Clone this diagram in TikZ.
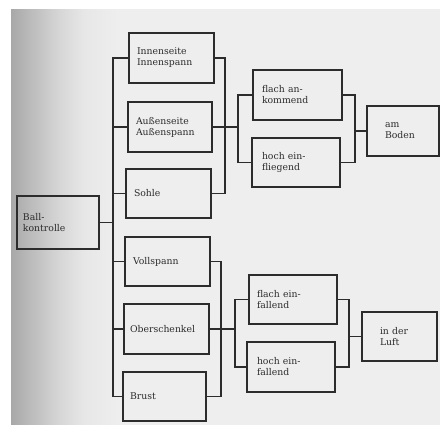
\documentclass[tikz,border=0pt]{standalone}
\usepackage{fontspec}
\setmainfont{DejaVu Serif}
\definecolor{ink}{HTML}{2C2C2C}
\definecolor{paper}{HTML}{EEEEEE}
\definecolor{shade}{HTML}{A8A8A8}
\pgfdeclarehorizontalshading{pageedge}{100bp}{
  color(0bp)=(shade); color(25bp)=(shade);
  color(27.5bp)=(shade!70!paper); color(30.5bp)=(shade!35!paper);
  color(33.5bp)=(shade!10!paper); color(37.5bp)=(paper); color(100bp)=(paper)}
\tikzset{
  box/.style={draw=ink, line width=1.2pt, inner ysep=0pt, align=left, text=ink,
    font=\fontsize{9.3pt}{11pt}\selectfont},
  wire/.style={draw=ink, line width=1.2pt}
}
\begin{document}
\begin{tikzpicture}[x=1pt,y=-1pt]
\useasboundingbox (0,0) rectangle (440,425);
\fill[white] (0,0) rectangle (440,425);
\shade[shading=pageedge] (11,10) rectangle (440,425);
% boxes
\node[box, inner xsep=6pt, text width=70pt, minimum height=53pt] (ball) at (58,222.5) {Ball-\\kontrolle};
\node[box, inner xsep=8pt, text width=69pt, minimum height=50pt] (inn) at (171.5,58) {Innenseite\\Innenspann};
\node[box, inner xsep=8pt, text width=68pt, minimum height=50pt] (aus) at (170,127) {Außenseite\\Außenspann};
\node[box, inner xsep=8pt, text width=69pt, minimum height=49pt] (sohle) at (168.5,193.5) {Sohle};
\node[box, inner xsep=8pt, text width=69pt, minimum height=49pt] (voll) at (167.5,261.5) {Vollspann};
\node[box, inner xsep=6pt, text width=73pt, minimum height=50pt] (ober) at (166.5,329) {Oberschenkel};
\node[box, inner xsep=7pt, text width=69pt, minimum height=49pt] (brust) at (164.5,396.5) {Brust};
\node[box, inner xsep=9pt, text width=71pt, minimum height=50pt] (flachan) at (297.5,95) {flach an-\\kommend};
\node[box, inner xsep=10pt, text width=68pt, minimum height=49pt] (hochein) at (296,162.5) {hoch ein-\\fliegend};
\node[box, inner xsep=18pt, text width=36pt, minimum height=50pt] (boden) at (403,131) {am\\Boden};
\node[box, inner xsep=8pt, text width=72pt, minimum height=49pt] (flachfall) at (293,299.5) {flach ein-\\fallend};
\node[box, inner xsep=10pt, text width=68pt, minimum height=50pt] (hochfall) at (291,367) {hoch ein-\\fallend};
\node[box, inner xsep=18pt, text width=39pt, minimum height=49pt] (luft) at (399.5,336.5) {in der\\Luft};
% connector columns
\coordinate (t1) at (113,0);
\coordinate (r1) at (225,0);
\coordinate (s1) at (238,0);
\coordinate (m1) at (355,0);
\coordinate (r2) at (221,0);
\coordinate (s2) at (235,0);
\coordinate (m2) at (349,0);
% trunk
\draw[wire] (inn.west) -- (inn.west -| t1) -- (brust.west -| t1) -- (brust.west);
\draw[wire] (ball.east) -- (ball.east -| t1);
\foreach \b in {aus,sohle,voll,ober} \draw[wire] (\b.west) -- (\b.west -| t1);
% upper group
\draw[wire] (inn.east) -- (inn.east -| r1) -- (sohle.east -| r1) -- (sohle.east);
\draw[wire] (aus.east) -- (aus.east -| r1) -- (aus.east -| s1);
\draw[wire] (flachan.west) -- (flachan.west -| s1) -- (hochein.west -| s1) -- (hochein.west);
\draw[wire] (flachan.east) -- (flachan.east -| m1) -- (hochein.east -| m1) -- (hochein.east);
\draw[wire] (boden.west -| m1) -- (boden.west);
% lower group
\draw[wire] (voll.east) -- (voll.east -| r2) -- (brust.east -| r2) -- (brust.east);
\draw[wire] (ober.east) -- (ober.east -| r2) -- (ober.east -| s2);
\draw[wire] (flachfall.west) -- (flachfall.west -| s2) -- (hochfall.west -| s2) -- (hochfall.west);
\draw[wire] (flachfall.east) -- (flachfall.east -| m2) -- (hochfall.east -| m2) -- (hochfall.east);
\draw[wire] (luft.west -| m2) -- (luft.west);
\end{tikzpicture}
\end{document}
